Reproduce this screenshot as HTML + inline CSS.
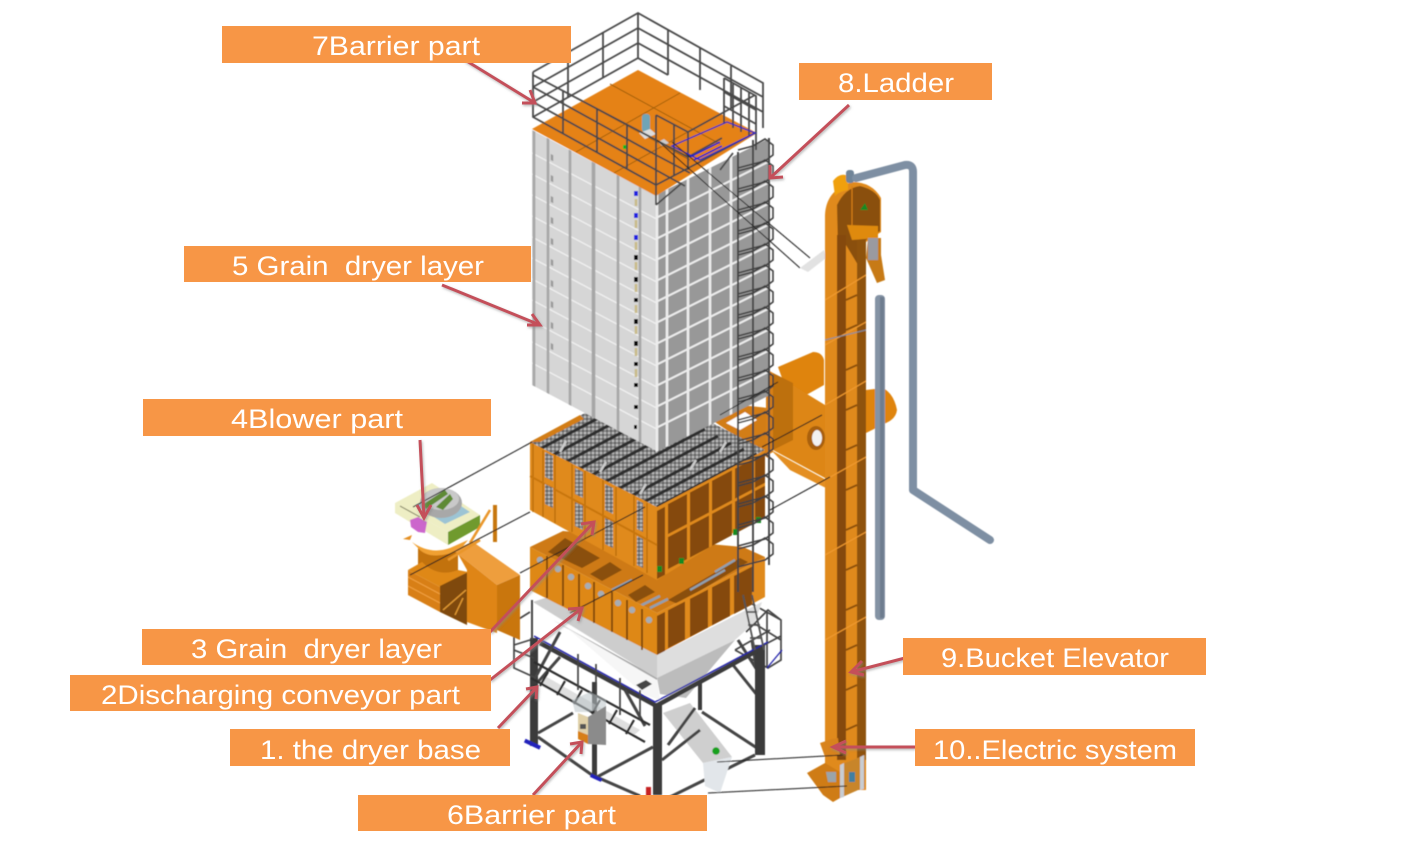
<!DOCTYPE html>
<html lang="en">
<head>
<meta charset="utf-8">
<title>Grain dryer parts diagram</title>
<style>
html,body{margin:0;padding:0;background:#fff;width:1424px;height:845px;overflow:hidden}
svg{display:block}
.lb{fill:#F79646}
.tx{fill:#fff;font-family:"Liberation Sans",sans-serif;font-size:27px}
.ar{stroke:#C4505A;stroke-width:3;fill:none}
.rail{fill:none;stroke:#484848;stroke-width:1.8}
.thin{stroke:#1c1c1c;stroke-width:1;fill:none}
.col{fill:#3A3A3A}
.beam{stroke:#3A3A3A;stroke-width:4.5;fill:none}
.bm2{stroke:#444;stroke-width:3;fill:none}
.fr2{stroke:#444;stroke-width:1.7;fill:none}
.o1{fill:#E08A1E}.o2{fill:#854A08}.o3{fill:#D27D14}
</style>
</head>
<body>
<svg width="1424" height="845" viewBox="0 0 1424 845" xmlns="http://www.w3.org/2000/svg">
<defs>
<path id="hp" d="M738 14 L753 10 L765 3 L773 9 V19 L765 25 L753 28 L738 32" fill="none" stroke="#3f3f3f" stroke-width="1.6"/>
<pattern id="mesh" width="4" height="4" patternUnits="userSpaceOnUse">
<rect width="4" height="4" fill="#858585"/><rect width="2" height="2" fill="#bdbdbd"/><rect x="2" y="2" width="2" height="2" fill="#5e5e5e"/>
</pattern>
<filter id="soft"><feGaussianBlur stdDeviation="0.5"/></filter>
<filter id="sh" x="-10%" y="-10%" width="120%" height="120%"><feDropShadow dx="1" dy="1.5" stdDeviation="1.2" flood-color="#888" flood-opacity=".6"/></filter>
</defs>
<rect width="1424" height="845" fill="#fff"/>

<g filter="url(#soft)">
<!-- elevator back cylinders and bracket -->
<path d="M778 367 L813 352 Q822 352 824 360 V385 L808 394 L790 400Z" fill="#DF8410"/>
<path d="M866 390 L883 388 Q894 394 897 410 Q896 418 888 422 L866 433Z" fill="#DF8410"/>
<path d="M712 420 L740 405 L768 408 V458Z" class="o3"/>
<path d="M726 423 L745 412 L757 420 L740 430Z" fill="#fff"/>
<path d="M766 369 L825 405 V478 L773 450 V378Z" fill="#DD8618"/>
<path d="M773 373 L793 383 V440 L773 450Z" fill="#BD700E"/>
<path d="M766 369 L773 373 V452 L766 456Z" fill="#D88014"/>
<path d="M771 450 L830 482 V490 L790 470Z" fill="#E48F22"/>
<ellipse cx="816" cy="438" rx="9" ry="12" fill="#A96008"/><ellipse cx="817" cy="438" rx="5" ry="8" fill="#f2f2f2"/>

<!-- frame back -->
<rect class="col" x="698" y="680" width="4" height="30"/>
<path class="bm2" d="M702 712 L760 750 M668 798 L755 755"/>
<path class="bm2" d="M733 665 L757 695 M752 640 L758 680 M738 640 L757 670"/>

<!-- right platform -->
<path class="fr2" d="M746 632 L768 610 L781 620 V660 L768 668 L735 650 M767 610 V668 M735 650 L770 630 M745 655 L781 636 M781 640 L752 622 M781 620 L745 600"/>
<path d="M767 668 L782 650" stroke="#2222AA" stroke-width="1.3" fill="none"/>

<!-- hopper -->
<path d="M533 602 L548 597 L657 655 L657 678 L640 668Z" fill="#CDCDCD"/>
<path d="M553 620 L640 668 L657 678 V682 Z" fill="#A9A9A9"/>
<path d="M567 628 L657 680 L660 700 L645 695Z" fill="#F6F6F6"/>
<path d="M657 655 L762 602 L755 622 L735 640 L657 678Z" fill="#DEDEDE"/>
<path d="M657 678 L735 640 L686 698 L660 694Z" fill="#BCBCBC"/>

<!-- chute -->
<path d="M663 713 L690 703 L732 757 L703 763Z" fill="#CFCFCF"/>
<path d="M703 763 L732 757 L720 793 L705 786Z" fill="#E2E6EA"/>
<circle cx="716" cy="751" r="3.8" fill="#14A01E"/>

<!-- frame -->
<rect class="col" x="530" y="638" width="8" height="108"/>
<rect class="col" x="592" y="682" width="5" height="95"/>
<rect class="col" x="653" y="703" width="9" height="92"/>
<rect class="col" x="755" y="645" width="10" height="110"/>
<path d="M540 643 L653 704 L656 706 L762 648" class="beam"/>
<path d="M534 636 L655 702 L768 642" stroke="#2525AA" stroke-width="1.4" fill="none"/>
<path class="bm2" d="M538 737 L592 775 L640 796 M597 777 L653 747 M538 733 L573 713 M662 760 L700 730"/>
<path class="bm2" d="M560 632 L534 680 M560 657 L538 682 M625 690 L645 726 M695 708 L668 745"/>
<rect x="524" y="742" width="17" height="4" fill="#2222BB" transform="rotate(25 532 744)"/>
<rect x="590" y="776" width="12" height="3.5" fill="#2222BB" transform="rotate(25 596 778)"/>
<!-- left rail + platform -->
<path class="fr2" d="M530 612 L514 622 V650 L534 658 M514 645 L530 640 M514 650 V668 L536 678"/>
<path d="M532 600 V640" stroke="#444" stroke-width="2" fill="none"/>
<path d="M545 676 L640 730 L633 736 L538 684Z" fill="#C4C4C4" opacity=".55"/>
<path d="M534 662 L650 725 M531 678 L645 742 M548 672 L540 686 M565 681 L557 695 M582 690 L574 704 M600 700 L592 714 M617 710 L609 724 M634 720 L626 734" stroke="#2e2e2e" stroke-width="2.2" fill="none"/>
<path class="fr2" d="M578 654 V690 M596 664 V698 M620 678 V715 M640 690 V720"/>
<path d="M636 685 L646 680 L652 684 L642 690Z" fill="#444"/>
<!-- control box -->
<path d="M572 700 L590 692 L606 700 V708 L588 712 L575 712Z" fill="#BCC4C8" opacity=".55"/>
<path d="M588 717 L606 706 V745 L588 744Z" fill="#8B8B8B"/>
<path d="M578 713 L588 717 V744 L578 738Z" fill="#E0D0A8"/>
<path d="M578 731 L588 735 V744 L578 739Z" fill="#D77E18"/>
<rect x="580" y="724" width="6" height="5" fill="#555"/>
<rect x="646" y="787" width="5" height="9" fill="#C62020"/>

<!-- layer 2 -->
<path d="M530 547 L563 531 L743 547 L765 557 L657 613Z" fill="#CE7A14"/>
<path d="M548 552 L565 538 L600 558 L582 568Z M590 574 L610 562 L622 570 L602 581Z M628 595 L645 585 L655 592 L636 602Z M668 600 L740 558 L748 562 L678 604Z" fill="#8A4F0A"/>
<path d="M612 590 L632 580 M640 606 L660 596 M690 590 L725 570 M715 572 L735 560 M650 608 L668 599" stroke="#8FA0B0" stroke-width="2.4" fill="none"/>
<path d="M530 547 L657 613 V655 L530 590Z" fill="#DE8818"/>
<path d="M657 613 L765 557 V597 L657 655Z" class="o1"/>
<g transform="matrix(1,-.52,0,1,657,613)"><g class="o2">
<rect x="0" y="3" width="8" height="39"/><rect x="11" y="3" width="17" height="38"/><rect x="33" y="3" width="18" height="38"/><rect x="55" y="3" width="18" height="38"/><rect x="77" y="3" width="18" height="38"/></g></g>
<path d="M547 556 V598 M563 565 V606 M579 574 V614 M594 582 V623 M612 592 V632 M627 600 V640 M642 609 V650" stroke="#7A4508" stroke-width="1.7" fill="none"/>
<g fill="#A6ADB3"><circle cx="540" cy="560" r="3.2"/><circle cx="558" cy="569" r="3.2"/><circle cx="571" cy="577" r="3.2"/><circle cx="588" cy="586" r="3.2"/><circle cx="601" cy="594" r="3.2"/><circle cx="618" cy="603" r="3.2"/><circle cx="632" cy="610" r="3.2"/><circle cx="649" cy="620" r="3.2"/></g>

<!-- layer 3 top -->
<path d="M530 442 L638 385 L765 450 L657 507Z" fill="url(#mesh)"/>
<path d="M530 442 L580 415 L584 419 L540 442Z" class="o3"/>
<path d="M540 449 L640 396 M553 455 L653 402 M566 462 L666 409 M579 469 L679 416 M592 475 L692 422 M605 482 L705 429 M618 489 L718 436 M631 496 L731 443 M644 502 L744 449 M657 507 L757 454" stroke="#2f2f2f" stroke-width="3.2" fill="none"/>
<path d="M560 452 L566 441 M600 472 L606 462 M640 494 L646 484 M690 470 L696 460 M720 452 L726 442" stroke="#ccc" stroke-width="2.4" fill="none"/>
<!-- layer 3 faces -->
<path d="M530 442 L657 507 V580 L530 510Z" class="o1"/>
<path d="M657 507 L765 450 V513 L657 580Z" class="o1"/>
<g transform="matrix(1,-.53,0,1,657,507)"><g class="o2">
<rect x="0" y="4" width="8" height="68"/>
<rect x="11" y="3" width="19" height="30"/><rect x="11" y="36" width="19" height="32"/>
<rect x="33" y="3" width="19" height="30"/><rect x="33" y="36" width="19" height="32"/>
<rect x="55" y="3" width="20" height="30"/><rect x="55" y="36" width="20" height="32"/>
<rect x="78" y="3" width="18" height="30"/><rect x="78" y="36" width="18" height="32"/>
<rect x="98" y="3" width="10" height="30"/><rect x="98" y="36" width="10" height="32"/>
</g></g>
<path d="M533 443 V512 M543 450 V517 M555 455 V523 M572 464 V532 M585 471 V539 M603 480 V550 M616 487 V556 M634 496 V566 M647 503 V573" stroke="#B96D0E" stroke-width="1.3" fill="none"/>
<path d="M530 476 L657 545" stroke="#C87610" stroke-width="2" fill="none"/>
<g fill="url(#mesh)">
<path d="M545 452 L553 456 V481 L545 477Z"/><path d="M545 484 L553 488 V508 L545 504Z"/>
<path d="M575 468 L583 472 V498 L575 494Z"/><path d="M575 502 L583 506 V530 L575 526Z"/>
<path d="M605 484 L613 488 V514 L605 510Z"/><path d="M605 518 L613 522 V548 L605 544Z"/>
<path d="M637 500 L643 503 V532 L637 529Z"/><path d="M637 536 L643 539 V568 L637 565Z"/>
</g>
<rect x="657" y="566" width="5" height="6" fill="#128A22"/><rect x="679" y="558" width="5" height="6" fill="#128A22"/><rect x="733" y="529" width="5" height="6" fill="#128A22"/><rect x="756" y="517" width="5" height="6" fill="#128A22"/>

<!-- tower left face -->
<g transform="matrix(1,.53,0,1,532,130)">
<rect width="124" height="255" fill="#D6D6D6"/>
<path d="M0 23H124M0 44H124M0 65H124M0 86H124M0 107H124M0 128H124M0 149H124M0 170H124M0 191H124M0 212H124M0 233H124" stroke="#EFEFEF" stroke-width="1.6"/>
<path d="M2 0V255M16 0V255M38 0V255M61 0V255M62 0V255M86 0V255M108 0V255" stroke="#A6A6A6" stroke-width="2.6"/>
<path d="M20 14V20M20 35V41M20 56V62M20 77V83M20 98V104M20 119V125M20 140V146M20 161V167M20 182V188M20 203V209" stroke="#9a9a9a" stroke-width="2.4"/>
</g>
<g fill="#2020E0"><rect x="634" y="191" width="4" height="5"/><rect x="634" y="213" width="4" height="5"/><rect x="634" y="235" width="4" height="5"/></g>
<g fill="#111"><rect x="634" y="255" width="4" height="5"/><rect x="634" y="277" width="4" height="5"/><rect x="634" y="298" width="4" height="4"/><rect x="634" y="319" width="4" height="5"/><rect x="634" y="341" width="4" height="5"/><rect x="634" y="362" width="4" height="4"/><rect x="634" y="383" width="4" height="4"/><rect x="634" y="405" width="4" height="4"/><rect x="634" y="425" width="3" height="4"/></g>
<path d="M636 199V206M636 220V228M636 242V250M636 262V270M636 284V292M636 305V313M636 326V334M636 348V356M636 369V377" stroke="#C9BB88" stroke-width="2.6"/>
<!-- tower right face -->
<g transform="matrix(1,-.5,0,1,656,195)">
<rect width="112" height="257" fill="#989898"/>
<path d="M0 23H112M0 44H112M0 65H112M0 86H112M0 107H112M0 128H112M0 149H112M0 170H112M0 191H112M0 212H112M0 233H112" stroke="#EDEDED" stroke-width="2.3"/>
<path d="M1 0V257M11 0V257M32 0V257M54 0V257M75 0V257" stroke="#EDEDED" stroke-width="2.6"/>
</g>

<!-- roof -->
<path d="M532 129 L638 70 L757 133 L656 196 Z" fill="#E58214"/>
<path d="M576 152 L680 93 M614 173 L720 114 M580 100 L690 160 M610 84 L720 144" stroke="#A4600E" stroke-width="1" fill="none"/>
<rect x="642" y="114" width="8" height="18" rx="3" fill="#6FA4B6"/>
<path d="M639 133 L650 129 L656 134 L645 139Z" fill="#ddd"/>
<path d="M658 142 L664 139 L669 143 L662 146Z" fill="#ccc"/>
<rect x="623" y="145" width="5" height="4" fill="#19B31E"/>
<!-- top rail -->
<g class="rail">
<path d="M533 72 L638 13 L763 83 V128 M533 72 V117 L656 185 L755 133 M638 13 V58 L533 117 M638 28 L533 87 M638 43 L533 102 M638 28 L763 97 M638 43 L763 112 M638 58 L668 75"/>
<path d="M568 52 V97 M603 32 V77 M668 30 V75 M700 48 V90 M731 66 V108"/>
<path d="M533 75 L656 140 M533 87 L656 155 M533 102 L656 170 M563 91 V134 M597 109 V152 M627 125 V168"/>
<path d="M724 78 L756 96 V150 M724 78 V124 M733 84 V128 M741 88 V132 M749 92 V136 M724 92 L756 110 M724 106 L756 124"/>
<path d="M656 115 V205 M656 115 L688 132 L755 95 M656 140 L688 157 L722 138 M656 155 L690 173 M656 170 L685 186 M674 125 V176 M688 132 V170 M656 205 L682 183 M720 170 L733 153"/>
</g>
<path d="M727 122 L755 133 L700 160 L672 146 Z" stroke="#2A2AC0" stroke-width="1.4" fill="none"/>
<path d="M690 157 L720 142 M694 160 L722 146" stroke="#2020CC" stroke-width="1.6" fill="none"/>

<!-- ladder -->
<g>
<use href="#hp" y="136"/><use href="#hp" y="157"/><use href="#hp" y="178"/><use href="#hp" y="199"/><use href="#hp" y="220"/><use href="#hp" y="241"/><use href="#hp" y="262"/><use href="#hp" y="283"/><use href="#hp" y="304"/><use href="#hp" y="325"/><use href="#hp" y="346"/><use href="#hp" y="367"/><use href="#hp" y="388"/><use href="#hp" y="409"/><use href="#hp" y="430"/><use href="#hp" y="451"/><use href="#hp" y="472"/><use href="#hp" y="493"/><use href="#hp" y="514"/><use href="#hp" y="535"/>
</g>
<path d="M738 152 V592 M753 140 V592 M769 138 V565" stroke="#454545" stroke-width="1.9" fill="none"/>
<path d="M743 595 L755 650 M752 595 L764 650 M746 612 L757 612 M748 625 L760 625 M750 638 L762 638" stroke="#555" stroke-width="1.8" fill="none"/>
<path d="M657 140 L800 268 M672 142 L810 258" class="thin"/>
<path d="M800 268 L808 272 L826 258 L824 250Z" fill="#E2E2E2"/>

<!-- blower -->
<path d="M395 503 L432 483 L480 515 L448 532Z" fill="#EEEEC4"/>
<path d="M415 505 L440 492 L470 512 L445 524Z" fill="#9CC4D4"/>
<ellipse cx="441" cy="503" rx="21" ry="15" fill="#A8A8A8"/><ellipse cx="441" cy="499" rx="18" ry="11" fill="#C9C9C9"/>
<path d="M422 505 L445 490 L448 494 L426 509Z M436 507 L450 494 L453 499 L443 510Z" fill="#5E8A34"/>
<path d="M395 503 L448 532 V545 L395 513Z" fill="#EEEEC4"/>
<path d="M400 506 L420 517" stroke="#8a8a6a" stroke-width="1" fill="none"/>
<path d="M448 532 L480 515 V527 L448 545Z" fill="#6F9A2E"/>
<path d="M410 520 L418 517 L427 522 L425 533 L418 532 L411 527Z" fill="#CC66CC"/>
<path d="M412 535 L403 539 L410 540Z" fill="#E48F22"/>
<path d="M418 548 Q440 560 458 545 V575 Q438 585 418 572Z" fill="#C27210"/>
<path d="M412 542 Q430 555 450 548 L468 540 L460 550 Q430 562 418 548Z" fill="#F0A030"/>
<path d="M408 570 L440 587 V612 L408 595Z" fill="#D87F14"/>
<path d="M408 570 L422 562 Q438 578 458 570 L468 572 L440 587Z" fill="#DF8818"/>
<path d="M408 577 L440 594 M408 586 L440 603" stroke="#F0A040" stroke-width="1" fill="none"/>
<path d="M440 586 L468 572 L467 625 L440 612Z" fill="#7F4A08"/>
<path d="M443 610 L466 590 M455 615 L463 598" stroke="#E39A35" stroke-width="1.4" fill="none"/>
<path d="M453 550 L473 542 L520 575 L497 585Z" fill="#EE9E3C"/>
<path d="M458 554 L497 585 V633 L467 622 V570Z" fill="#DF8516"/>
<path d="M497 585 L520 575 V640 L497 630Z" fill="#C9760E"/>
<path d="M493 505 H497 V542 H493Z" fill="#C77710"/>
<path d="M490 510 L470 543 M480 540 L448 560" stroke="#E9962A" stroke-width="2.6" fill="none"/>

<!-- elevator -->
<path d="M825 215 Q826 190 852 182 Q872 182 881 198 V232 L866 242 V790 L837 790 L825 775Z" class="o1"/>
<path d="M837 205 Q845 188 860 186 Q876 190 880 200 V231 L866 240 V262 L858 265 L846 245 L838 250Z" fill="#8A4F0A"/>
<path d="M852 186 V230" stroke="#D87F14" stroke-width="1.2" fill="none"/>
<rect x="837" y="235" width="9" height="525" class="o2"/>
<rect x="857" y="240" width="9" height="520" fill="#8F520B"/>
<path d="M846 300 L857 295 M846 330 L857 325 M846 370 L857 365 M846 410 L857 405 M846 450 L857 445 M846 490 L857 485 M846 530 L857 525 M846 570 L857 565 M846 610 L857 605 M846 650 L857 645 M846 690 L857 685 M846 730 L857 725" stroke="#8A4F0A" stroke-width="2" fill="none"/>
<path d="M825 300 L866 275 M825 345 L866 322 M825 405 L866 381 M825 480 L866 457 M825 555 L866 532 M825 640 L866 617" stroke="#F09A30" stroke-width="1.2" fill="none"/>
<path d="M825 340 L866 330" stroke="#8090A0" stroke-width="1" fill="none"/>
<path d="M833 181 Q840 172 848 176 L848 190 Q838 192 835 196Z" fill="#F0A010"/>
<rect x="846" y="170" width="8" height="13" rx="3" fill="#6F8498"/>
<path d="M856 178 L905 165 Q913 164 913 172 V490 L990 540" fill="none" stroke="#7E8FA3" stroke-width="8" stroke-linejoin="round" stroke-linecap="round"/>
<rect x="875" y="295" width="10" height="325" rx="4" fill="#8493A4"/>
<rect x="880" y="297" width="4" height="321" fill="#6E7D8F"/>
<path d="M847 225 L878 226 L878 238 L852 240Z" fill="#DF8A10"/>
<path d="M868 238 H881 V255 L885 280 L877 283 L866 258Z" fill="#C77A12"/>
<rect x="868" y="238" width="10" height="22" fill="#9A9AA0"/>
<path d="M860 210 L865 203 L868 210Z" fill="#128A22"/>
<!-- elevator base -->
<path d="M820 743 L832 739 L838 738 L840 755 L825 757Z" fill="#D8831A"/>
<path d="M807 773 L825 763 L840 772 V798 L833 802 L823 795Z" fill="#CF7C14"/>
<path d="M840 765 L865 755 V787 L840 798Z" fill="#C8852C"/>
<path d="M840 765 L844 763 V797 L840 798Z M860 757 L864 755 V789 L860 790Z" fill="#C8CDD2"/>
<rect x="849" y="772" width="6" height="10" fill="#3F7FA0"/>
<path d="M826 772 L836 772 V782 L828 782Z" fill="#9aa4aa"/>
<!-- callout thin lines -->
<path d="M532 442 L413 507 M530 512 L410 575 M645 507 L520 573 M643 575 L570 613 M778 382 L720 415 M822 415 L762 447 M830 477 L770 510 M717 762 L843 755 M708 793 L847 786" class="thin"/>
</g>

<!-- arrows -->
<g filter="url(#sh)">
<path class="ar" d="M465 60 L535 103 M849 105 L770 178 M442 285 L540 325 M420 440 L424 518 M490 632 L594 522 M490 680 L582 608 M498 728 L537 687 M533 795 L582 742 M905 658 L851 672 M915 747 L833 747"/>
<path class="ar" d="M522 103 L535 103 L530 90 M770 165 L770 178 L783 177 M527 325 L540 325 L532 314 M417 505 L424 518 L431 505 M581 524 L594 522 L592 535 M568 609 L582 608 L578 621 M526 689 L537 687 L536 699 M570 744 L582 742 L581 754 M862 661 L851 672 L864 675 M846 741 L833 747 L846 753"/>
</g>

<!-- labels -->
<rect class="lb" x="222" y="26" width="349" height="37"/>
<rect class="lb" x="799" y="63" width="193" height="37"/>
<rect class="lb" x="184" y="246" width="347" height="36"/>
<rect class="lb" x="143" y="399" width="348" height="37"/>
<rect class="lb" x="142" y="629" width="349" height="36"/>
<rect class="lb" x="70" y="675" width="421" height="36"/>
<rect class="lb" x="230" y="729" width="280" height="37"/>
<rect class="lb" x="358" y="795" width="349" height="36"/>
<rect class="lb" x="903" y="638" width="303" height="37"/>
<rect class="lb" x="915" y="729" width="280" height="37"/>
<g class="tx">
<text x="312" y="55" textLength="168" lengthAdjust="spacingAndGlyphs">7Barrier part</text>
<text x="838" y="92" textLength="116" lengthAdjust="spacingAndGlyphs">8.Ladder</text>
<text x="232" y="275" textLength="252" lengthAdjust="spacingAndGlyphs" xml:space="preserve">5 Grain  dryer layer</text>
<text x="231" y="428" textLength="172" lengthAdjust="spacingAndGlyphs">4Blower part</text>
<text x="191" y="658" textLength="251" lengthAdjust="spacingAndGlyphs" xml:space="preserve">3 Grain  dryer layer</text>
<text x="101" y="704" textLength="359" lengthAdjust="spacingAndGlyphs">2Discharging conveyor part</text>
<text x="260" y="759" textLength="221" lengthAdjust="spacingAndGlyphs">1. the dryer base</text>
<text x="447" y="824" textLength="169" lengthAdjust="spacingAndGlyphs">6Barrier part</text>
<text x="941" y="667" textLength="228" lengthAdjust="spacingAndGlyphs">9.Bucket Elevator</text>
<text x="933" y="759" textLength="244" lengthAdjust="spacingAndGlyphs">10..Electric system</text>
</g>
</svg>
</body>
</html>
